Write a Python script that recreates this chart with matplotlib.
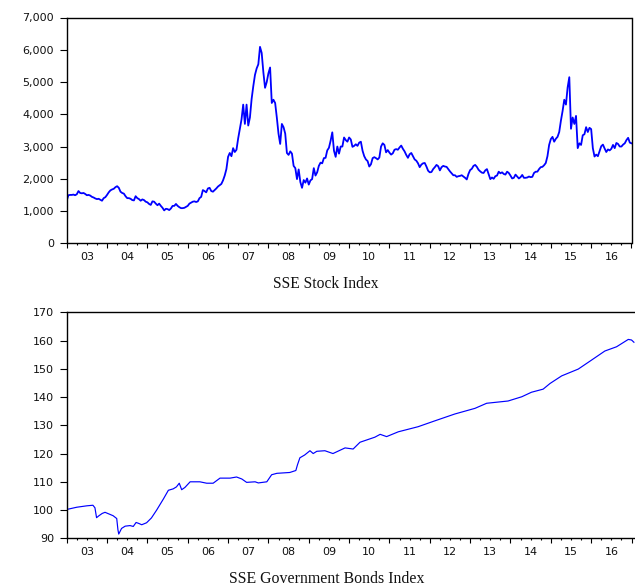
import numpy as np
import matplotlib
matplotlib.use("Agg")
import matplotlib.pyplot as plt
from matplotlib.ticker import FixedLocator, FixedFormatter, NullFormatter

# ---- SSE Stock Index: semi-monthly readings (1st and 15th of each month) ----
s2003 = [1320, 1490, 1500, 1500, 1510, 1490, 1520, 1620, 1560, 1550, 1560, 1530,
         1490, 1500, 1480, 1440, 1420, 1390, 1370, 1380, 1350, 1320, 1400, 1430]
s2004 = [1500, 1580, 1640, 1670, 1690, 1740, 1770, 1720, 1600, 1560, 1540, 1460,
         1400, 1400, 1380, 1340, 1330, 1460, 1400, 1370, 1320, 1360, 1340, 1290]
s2005 = [1270, 1220, 1190, 1300, 1290, 1230, 1180, 1230, 1160, 1100, 1020, 1070,
         1060, 1030, 1080, 1160, 1160, 1220, 1160, 1120, 1090, 1090, 1100, 1130]
s2006 = [1160, 1230, 1260, 1290, 1300, 1280, 1300, 1400, 1440, 1650, 1620, 1580,
         1700, 1720, 1620, 1600, 1650, 1700, 1760, 1800, 1840, 1950, 2100, 2300]
s2007 = [2680, 2800, 2700, 2950, 2830, 2900, 3250, 3550, 3840, 4300, 3700, 4300,
         3650, 3900, 4470, 4870, 5220, 5420, 5550, 6090, 5900, 5300, 4820, 5000]
s2008 = [5270, 5450, 4350, 4450, 4350, 3900, 3400, 3080, 3700, 3600, 3400, 2800,
         2740, 2850, 2780, 2400, 2330, 1990, 2290, 1900, 1720, 1960, 1880, 2010]
s2009 = [1820, 1950, 1990, 2330, 2100, 2200, 2400, 2500, 2480, 2640, 2650, 2880,
         2960, 3180, 3440, 2870, 2680, 3000, 2780, 3000, 3000, 3280, 3200, 3150]
s2010 = [3280, 3220, 2990, 3020, 3070, 3020, 3120, 3150, 2870, 2700, 2600, 2550,
         2380, 2450, 2640, 2670, 2640, 2600, 2660, 3000, 3100, 3050, 2820, 2890]
s2011 = [2810, 2750, 2790, 2900, 2920, 2900, 2970, 3030, 2930, 2850, 2740, 2650,
         2760, 2800, 2700, 2600, 2560, 2480, 2360, 2440, 2480, 2490, 2380, 2250]
s2012 = [2200, 2210, 2300, 2360, 2430, 2390, 2260, 2360, 2400, 2380, 2370, 2300,
         2230, 2170, 2110, 2110, 2060, 2080, 2090, 2110, 2070, 2030, 1980, 2150]
s2013 = [2270, 2310, 2400, 2430, 2370, 2280, 2230, 2190, 2180, 2260, 2300, 2150,
         1990, 2040, 2000, 2080, 2100, 2220, 2170, 2200, 2150, 2130, 2220, 2180]
s2014 = [2100, 2010, 2030, 2130, 2070, 2010, 2050, 2120, 2030, 2030, 2040, 2070,
         2050, 2060, 2180, 2220, 2220, 2300, 2360, 2370, 2420, 2490, 2700, 3050]
s2015 = [3230, 3300, 3150, 3240, 3300, 3450, 3800, 4100, 4450, 4300, 4830, 5150,
         3550, 3900, 3700, 3950, 2950, 3100, 3050, 3350, 3380, 3600, 3450, 3580]
s2016 = [3540, 2950, 2690, 2750, 2700, 2860, 3010, 3060, 2940, 2830, 2910, 2880,
         2930, 3050, 2950, 3110, 3080, 3000, 3000, 3060, 3100, 3200, 3270, 3120,
         3100]

stock_v = (s2003 + s2004 + s2005 + s2006 + s2007 + s2008 + s2009 + s2010 +
           s2011 + s2012 + s2013 + s2014 + s2015 + s2016)
stock_t = 2003 + np.arange(len(stock_v)) / 24.0

# ---- SSE Government Bonds Index: readings at decimal years ----
bond_t = [2003.0, 2003.25, 2003.5, 2003.65, 2003.70, 2003.74, 2003.80, 2003.88, 2003.95,
          2004.05, 2004.15, 2004.24, 2004.27, 2004.29, 2004.36, 2004.45, 2004.57, 2004.65,
          2004.72, 2004.78, 2004.86, 2004.98, 2005.1, 2005.23, 2005.4, 2005.52, 2005.64,
          2005.72, 2005.79, 2005.85, 2005.93, 2006.06, 2006.3, 2006.47, 2006.63, 2006.8,
          2007.05, 2007.21, 2007.34, 2007.46, 2007.67, 2007.75, 2007.96, 2008.08, 2008.21,
          2008.53, 2008.68, 2008.72, 2008.78, 2008.9, 2009.03, 2009.11, 2009.2, 2009.4,
          2009.6, 2009.9, 2010.1, 2010.27, 2010.64, 2010.77, 2010.93, 2011.22, 2011.71,
          2012.13, 2012.62, 2013.12, 2013.41, 2013.94, 2014.28, 2014.52, 2014.81, 2014.98,
          2015.27, 2015.68, 2015.97, 2016.34, 2016.63, 2016.92, 2017.0, 2017.06]
bond_v = [100.2, 101.0, 101.5, 101.7, 100.8, 97.3, 98.0, 98.8, 99.2,
          98.6, 98.0, 97.0, 93.0, 91.5, 93.5, 94.3, 94.5, 94.2,
          95.6, 95.3, 94.8, 95.5, 97.2, 100.0, 104.0, 107.0, 107.5,
          108.2, 109.5, 107.2, 108.0, 110.0, 110.0, 109.5, 109.5, 111.3,
          111.3, 111.7, 111.0, 109.8, 110.0, 109.6, 110.0, 112.5, 113.0,
          113.3, 114.0, 116.0, 118.5, 119.5, 121.0, 120.0, 120.8, 121.0,
          120.0, 122.0, 121.6, 124.0, 125.8, 126.8, 126.0, 127.7, 129.5,
          131.6, 134.0, 136.0, 137.8, 138.6, 140.1, 141.7, 142.8, 144.8,
          147.5, 149.9, 152.7, 156.3, 157.8, 160.4, 160.2, 159.4]

years = list(range(2003, 2017))
year_labels = ["03", "04", "05", "06", "07", "08", "09", "10", "11", "12", "13", "14", "15", "16"]
stock_yticks = [0, 1000, 2000, 3000, 4000, 5000, 6000, 7000]
stock_ylabels = ["0", "1,000", "2,000", "3,000", "4,000", "5,000", "6,000", "7,000"]
bond_yticks = [90, 100, 110, 120, 130, 140, 150, 160, 170]
bond_ylabels = ["90", "100", "110", "120", "130", "140", "150", "160", "170"]

titles = ["SSE Stock Index", "SSE Government Bonds Index"]

# ---------------------------------------------------------------
W, H = 635, 588
fig = plt.figure(figsize=(W / 100, H / 100), dpi=100)
fig.patch.set_facecolor("white")

ax1 = fig.add_axes([66.7 / W, 1 - 243.3 / H, (631.5 - 66.7) / W, (243.3 - 17.5) / H])
ax2 = fig.add_axes([66.7 / W, 1 - 538.3 / H, (W - 66.7) / W, (538.3 - 312.3) / H])

px_per_year = (631.5 - 66.7) / 14.0
tick_font = dict(family="DejaVu Sans", size=8)

def style(ax, xmax, yticks, ylabels, ylim):
    ax.set_xlim(2003, xmax)
    ax.set_ylim(*ylim)
    ax.xaxis.set_major_locator(FixedLocator(years + [2017]))
    ax.xaxis.set_major_formatter(NullFormatter())
    minor_locs, minor_labs = [], []
    for y, lab in zip(years, year_labels):
        for q, l in ((0.25, ""), (0.5, lab), (0.75, "")):
            minor_locs.append(y + q)
            minor_labs.append(l)
    ax.xaxis.set_minor_locator(FixedLocator(minor_locs))
    ax.xaxis.set_minor_formatter(FixedFormatter(minor_labs))
    ax.set_yticks(yticks)
    ax.set_yticklabels(ylabels)
    ax.tick_params(axis="x", which="major", direction="out", length=3.3, width=0.8,
                   bottom=True, top=False)
    ax.tick_params(axis="x", which="minor", direction="out", length=1.6, width=0.8,
                   pad=4.6, bottom=True, top=False)
    ax.tick_params(axis="y", which="major", direction="out", length=5.2, width=0.8,
                   pad=4.0, left=True, right=False)
    for lab in ax.get_xticklabels(minor=True) + ax.get_yticklabels():
        lab.set_fontfamily(tick_font["family"])
        lab.set_fontsize(tick_font["size"])
        lab.set_color("#111111")
    for s in ax.spines.values():
        s.set_linewidth(1.0)
        s.set_color("black")

style(ax1, 2017.0, stock_yticks, stock_ylabels, (0, 7000))
style(ax2, 2003 + (W - 66.7) / px_per_year, bond_yticks, bond_ylabels, (90, 170))
ax2.spines["right"].set_visible(False)

ax1.plot(stock_t, stock_v, color="#0000ff", lw=1.3, solid_joinstyle="round")
ax2.plot(bond_t, bond_v, color="#0000ff", lw=0.85, solid_joinstyle="round")

fig.text(326 / W, 1 - 284 / H, titles[0], ha="center", va="center",
         family="Liberation Serif", size=11.2, color="#111111")
fig.text(326.5 / W, 1 - 579 / H, titles[1], ha="center", va="center",
         family="Liberation Serif", size=11.4, color="#111111")

fig.savefig("out.png", dpi=100, facecolor="white")
